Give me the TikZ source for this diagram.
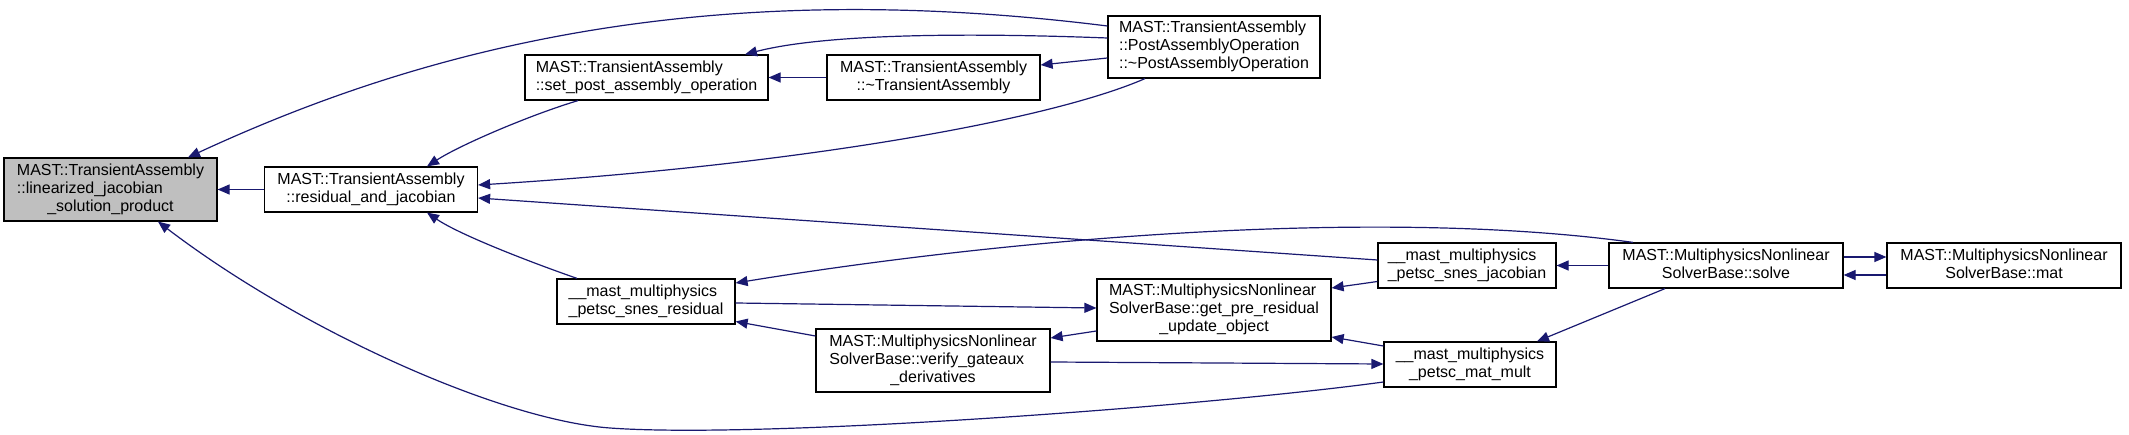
\documentclass[tikz,border=0pt]{standalone}
\usepackage{fontspec}
\setmainfont{Liberation Sans}
\usetikzlibrary{arrows.meta,calc}
\definecolor{edgeblue}{RGB}{25,25,112}
\definecolor{mainfill}{RGB}{191,191,191}
\newcommand{\lastc}[1]{\multicolumn{1}{@{}c@{}}{#1}}
\newcommand{\lns}[1]{\begin{tabular}{@{}l@{}}#1\end{tabular}}
\begin{document}
\begin{tikzpicture}[x=1pt,y=-1pt,
  fn/.style={draw=black,line width=1.2pt,fill=white,inner sep=0pt,
    font=\fontsize{16}{18}\selectfont},
  back/.style={draw=edgeblue,line width=1.2pt,{Triangle[length=12pt,width=10pt]}-}]
\useasboundingbox[fill=white] (0,0) rectangle (2129,435);

\node[fn,fill=mainfill,minimum width=213pt,minimum height=63pt] (main) at (110.5,189.5)
  {\lns{MAST::TransientAssembly\\::linearized\_jacobian\\\lastc{\_solution\_product}}};
\node[fn,minimum width=213pt,minimum height=45pt] (resjac) at (371,189.5)
  {\lns{MAST::TransientAssembly\\\lastc{::residual\_and\_jacobian}}};
\node[fn,minimum width=243pt,minimum height=45pt] (setpost) at (646.5,77.5)
  {\lns{MAST::TransientAssembly\\\lastc{::set\_post\_assembly\_operation}}};
\node[fn,minimum width=213pt,minimum height=45pt] (dtorta) at (933.5,77.5)
  {\lns{MAST::TransientAssembly\\\lastc{::\textasciitilde TransientAssembly}}};
\node[fn,minimum width=212pt,minimum height=62pt] (postop) at (1214,47)
  {\lns{MAST::TransientAssembly\\::PostAssemblyOperation\\\lastc{::\textasciitilde PostAssemblyOperation}}};
\node[fn,minimum width=178pt,minimum height=45pt] (snesres) at (646,301.5)
  {\lns{\_\_mast\_multiphysics\\\lastc{\_petsc\_snes\_residual}}};
\node[fn,minimum width=234pt,minimum height=63pt] (verify) at (933,360.5)
  {\lns{MAST::MultiphysicsNonlinear\\SolverBase::verify\_gateaux\\\lastc{\_derivatives}}};
\node[fn,minimum width=234pt,minimum height=62pt] (getpre) at (1214,310)
  {\lns{MAST::MultiphysicsNonlinear\\SolverBase::get\_pre\_residual\\\lastc{\_update\_object}}};
\node[fn,minimum width=178pt,minimum height=45pt] (snesjac) at (1467,265.5)
  {\lns{\_\_mast\_multiphysics\\\lastc{\_petsc\_snes\_jacobian}}};
\node[fn,minimum width=172pt,minimum height=45pt] (matmult) at (1470,364.5)
  {\lns{\_\_mast\_multiphysics\\\lastc{\_petsc\_mat\_mult}}};
\node[fn,minimum width=234pt,minimum height=45pt] (solve) at (1726,265.5)
  {\lns{MAST::MultiphysicsNonlinear\\\lastc{SolverBase::solve}}};
\node[fn,minimum width=234pt,minimum height=45pt] (mat) at (2004,265.5)
  {\lns{MAST::MultiphysicsNonlinear\\\lastc{SolverBase::mat}}};

% edges (arrow at the start point)
\draw[back] (main.east) -- (resjac.west);
\draw[back] ($(main.north)+(77.5,0)$) .. controls (420,50) and (700,-25) .. ($(postop.west)+(0,-21)$);
\draw[back] ($(main.south)+(47.5,0)$) .. controls (300,330) and (500,420) .. (610,428)
  .. controls (760,439) and (1200,407) .. ($(matmult.west)+(0,17.5)$);
\draw[back] ($(resjac.north)+(56,0)$) .. controls (460,145) and (530,115) .. ($(setpost.south)+(-68.5,0)$);
\draw[back] ($(resjac.south)+(56,0)$) .. controls (460,235) and (530,262) .. ($(snesres.north)+(-69,0)$);
\draw[back] ($(resjac.east)+(0,-4.5)$) .. controls (800,165) and (1050,120) .. ($(postop.south)+(-69,0)$);
\draw[back] ($(resjac.east)+(0,8.5)$) -- ($(snesjac.west)+(0,-5.5)$);
\draw[back] ($(setpost.north)+(98.5,0)$) .. controls (820,35) and (950,32) .. ($(postop.west)+(0,-9)$);
\draw[back] (setpost.east) -- (dtorta.west);
\draw[back] ($(dtorta.east)+(0,-12.5)$) -- ($(postop.west)+(0,11)$);
\draw[back] ($(snesres.east)+(0,-18.5)$) .. controls (1050,232) and (1400,210) .. ($(solve.north)+(-93,0)$);
\draw[back] ($(getpre.west)+(0,-2)$) -- ($(snesres.east)+(0,1.5)$);
\draw[back] ($(snesres.east)+(0,20)$) -- ($(verify.west)+(0,-24.5)$);
\draw[back] ($(verify.east)+(0,-22.5)$) -- ($(getpre.west)+(0,21)$);
\draw[back] ($(matmult.west)+(0,-0.5)$) -- ($(verify.east)+(0,1.5)$);
\draw[back] ($(getpre.east)+(0,27)$) -- ($(matmult.west)+(0,-18.5)$);
\draw[back] ($(getpre.east)+(0,-22)$) -- ($(snesjac.west)+(0,16)$);
\draw[back] (snesjac.east) -- (solve.west);
\draw[back] ($(matmult.north)+(67,0)$) -- ($(solve.south)+(-61,0)$);
\draw[back] ($(mat.west)+(0,-8.5)$) -- ($(solve.east)+(0,-8.5)$);
\draw[back] ($(solve.east)+(0,9.5)$) -- ($(mat.west)+(0,9.5)$);
\end{tikzpicture}
\end{document}
